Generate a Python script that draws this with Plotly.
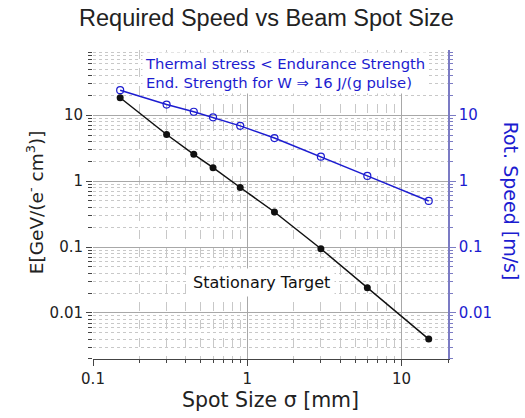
import plotly.graph_objects as go

# Data
spot_size = [0.15, 0.3, 0.45, 0.6, 0.9, 1.5, 3, 6, 15]
energy_density = [18.4, 5.1, 2.55, 1.6, 0.8, 0.34, 0.094, 0.024, 0.004]
rot_speed = [24.0, 14.5, 11.3, 9.3, 6.9, 4.5, 2.35, 1.2, 0.5]

x_major = [0.1, 1, 10]
x_major_text = ["0.1", "1", "10"]
y_major = [0.01, 0.1, 1, 10]
y_major_text = ["0.01", "0.1", "1", "10"]

x_minor = [m * d for d in (0.1, 1, 10) for m in range(2, 10) if m * d <= 20]
y_minor = [m * d for d in (0.001, 0.01, 0.1, 1, 10) for m in range(2, 10)]

BLUE = "#1c1cd0"
AXBLUE = "#7b7bc4"
FONT = "DejaVu Sans"

fig = go.Figure()
fig.add_trace(go.Scatter(
    x=spot_size, y=energy_density, mode="lines+markers",
    line=dict(color="#111111", width=1.5),
    marker=dict(color="#111111", size=7, symbol="circle"),
    showlegend=False, yaxis="y"))
fig.add_trace(go.Scatter(
    x=spot_size, y=rot_speed, mode="lines+markers",
    line=dict(color=BLUE, width=1.5),
    marker=dict(color=BLUE, size=7, symbol="circle-open", line=dict(color=BLUE, width=1.2)),
    showlegend=False, yaxis="y2"))

yrange = [-2.7, 1.99]

fig.update_layout(
    width=525, height=418,
    margin=dict(l=93, r=77, t=50, b=55),
    paper_bgcolor="white", plot_bgcolor="white",
    font=dict(family=FONT, size=15, color="#111111"),
    title=dict(text="Required Speed vs Beam Spot Size", x=266.5 / 525, xanchor="center",
               y=1 - 18 / 418, yanchor="middle",
               font=dict(family="Liberation Sans", size=23.5, color="#222222")),
    xaxis=dict(type="log", range=[-1, 1.301],
               tickmode="array", tickvals=x_major, ticktext=x_major_text,
               ticks="outside", ticklen=6, tickcolor="#444",
               showline=True, linecolor="#444", linewidth=1,
               showgrid=True, gridcolor="#a8a8a8", gridwidth=1,
               zeroline=False,
               tickfont=dict(size=15, color="#222"),
               title=dict(text="Spot Size σ [mm]", font=dict(size=20.5, color="#222"), standoff=4),
               minor=dict(tickmode="array", tickvals=x_minor, ticks="outside", ticklen=3,
                          tickcolor="#444", showgrid=True, gridcolor="#c8c8c8",
                          griddash="dash", gridwidth=1)),
    yaxis=dict(type="log", range=yrange,
               tickmode="array", tickvals=y_major, ticktext=y_major_text,
               ticks="outside", ticklen=6, tickcolor="#444",
               showline=False,
               showgrid=True, gridcolor="#a8a8a8", gridwidth=1,
               zeroline=False,
               tickfont=dict(size=15, color="#222"),
               minor=dict(tickmode="array", tickvals=y_minor, ticks="outside", ticklen=4,
                          tickcolor="#444", showgrid=True, gridcolor="#c8c8c8",
                          griddash="dot", gridwidth=1)),
    yaxis2=dict(type="log", range=yrange, overlaying="y", side="right",
                tickmode="array", tickvals=y_major, ticktext=y_major_text,
                ticks="outside", ticklen=6, tickcolor=AXBLUE,
                showline=True, linecolor=AXBLUE, linewidth=1.5,
                showgrid=False, zeroline=False,
                tickfont=dict(size=15, color=BLUE),
                minor=dict(tickmode="array", tickvals=y_minor, ticks="outside", ticklen=3,
                           tickcolor=AXBLUE, showgrid=False)),
)

fig.add_annotation(
    xref="paper", yref="paper", x=-0.163, y=(363 - 204) / 313,
    text="E[GeV/(e<sup>-</sup> cm<sup>3</sup>)]", textangle=-90, showarrow=False,
    font=dict(size=18.5, color="#222"), xanchor="center", yanchor="middle")
fig.add_annotation(
    xref="paper", yref="paper", x=1.18, y=(363 - 203.5) / 313,
    text="Rot. Speed [m/s]", textangle=90, showarrow=False,
    font=dict(size=19, color=BLUE), xanchor="center", yanchor="middle")
fig.add_annotation(
    xref="paper", yref="paper", x=0.137, y=0.995, xanchor="left", yanchor="top",
    text="Thermal stress &lt; Endurance Strength<br>End. Strength for W ⇒ 16 J/(g pulse)",
    align="left", showarrow=False, bgcolor="white", borderpad=2,
    font=dict(size=14.8, color=BLUE))
fig.add_annotation(
    xref="paper", yref="paper", x=0.476, y=0.249, xanchor="center", yanchor="middle",
    text="Stationary Target", showarrow=False, bgcolor="white", borderpad=4,
    font=dict(size=16, color="#111"))

fig.write_html("out.html")
